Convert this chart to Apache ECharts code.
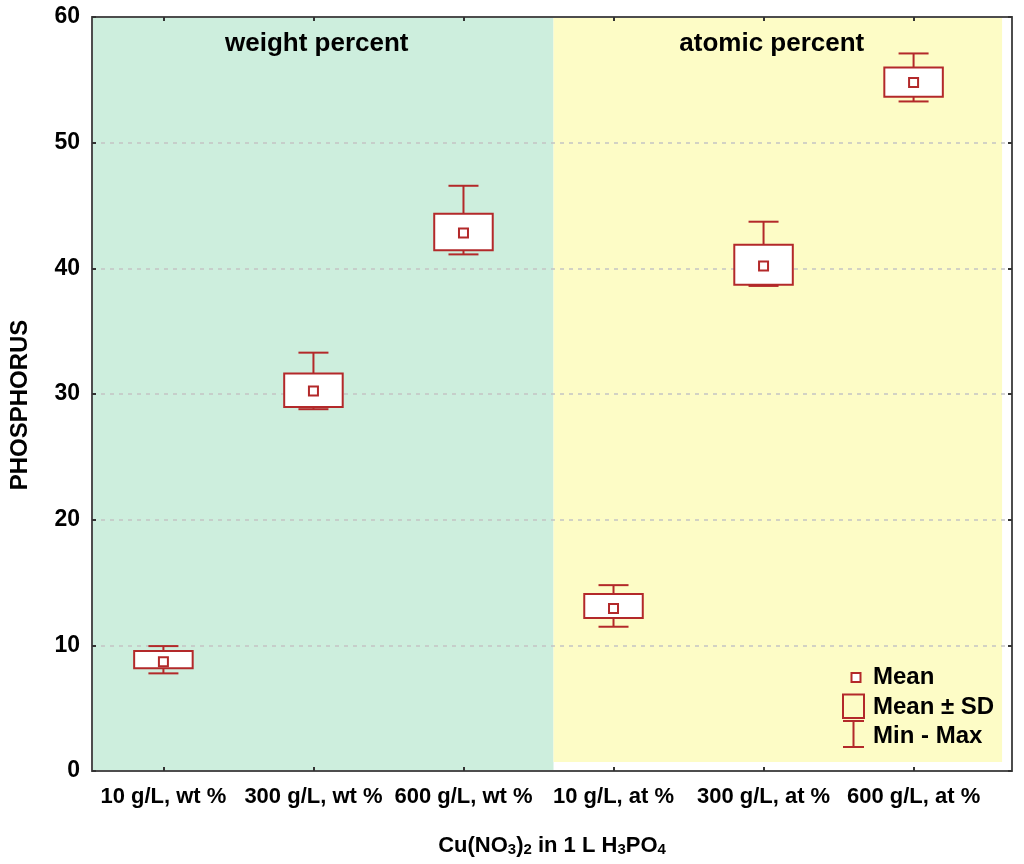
<!DOCTYPE html>
<html>
<head>
<meta charset="utf-8">
<script src="https://cdn.jsdelivr.net/npm/echarts@6/dist/echarts.min.js"></script>
<style>
html,body{margin:0;padding:0;background:#fff;}
#chart{width:1024px;height:864px;}
</style>
</head>
<body>
<div id="chart"></div>
<script>
// ---- data ----
const categories = ['10 g/L, wt %', '300 g/L, wt %', '600 g/L, wt %', '10 g/L, at %', '300 g/L, at %', '600 g/L, at %'];
const minVals  = [7.77, 28.79, 41.11, 11.48, 38.60, 53.28];
const sdLow    = [8.17, 28.97, 41.43, 12.17, 38.70, 53.65];
const means    = [8.69, 30.24, 42.81, 12.94, 40.19, 54.79];
const sdHigh   = [9.54, 31.63, 44.35, 14.08, 41.88, 55.98];
const maxVals  = [9.94, 33.29, 46.57, 14.79, 43.71, 57.10];
const groupLabels = ['weight percent', 'atomic percent'];
const legendLabels = ['Mean', 'Mean ± SD', 'Min - Max'];
const yMin = 0, yMax = 60, yStep = 10;

// ---- style ----
const RED = '#b3292a';
const FONT = '"Liberation Sans", Arial, sans-serif';
const XMIN = 0.524, XMAX = 6.656;
const catPos = categories.map((c, i) => i + 1);

const chart = echarts.init(document.getElementById('chart'));

function renderBox(params, api) {
  const x = api.value(0);
  const pMin = api.coord([x, api.value(1)]);
  const pLo = api.coord([x, api.value(2)]);
  const pMean = api.coord([x, api.value(3)]);
  const pHi = api.coord([x, api.value(4)]);
  const pMax = api.coord([x, api.value(5)]);
  const unit = api.size([1, 0])[0];
  const bw = unit * 0.39, cw = unit * 0.2, ms = 9;
  const cx = pMean[0];
  const ls = { stroke: RED, lineWidth: 2, fill: null };
  return {
    type: 'group',
    children: [
      { type: 'line', shape: { x1: cx, y1: pMax[1], x2: cx, y2: pHi[1] }, style: ls },
      { type: 'line', shape: { x1: cx - cw / 2, y1: pMax[1], x2: cx + cw / 2, y2: pMax[1] }, style: ls },
      { type: 'line', shape: { x1: cx, y1: pMin[1], x2: cx, y2: pLo[1] }, style: ls },
      { type: 'line', shape: { x1: cx - cw / 2, y1: pMin[1], x2: cx + cw / 2, y2: pMin[1] }, style: ls },
      { type: 'rect', shape: { x: cx - bw / 2, y: pHi[1], width: bw, height: pLo[1] - pHi[1] },
        style: { stroke: RED, lineWidth: 2, fill: '#ffffff' } },
      { type: 'rect', shape: { x: cx - ms / 2, y: pMean[1] - ms / 2, width: ms, height: ms },
        style: { stroke: RED, lineWidth: 2, fill: '#ffffff' } }
    ]
  };
}

const boxData = categories.map((c, i) => [i + 1, minVals[i], sdLow[i], means[i], sdHigh[i], maxVals[i]]);

const bandLabel = {
  show: true, position: 'insideTop', distance: 14, offset: [-6, 0],
  fontSize: 26, fontWeight: 'bold', color: '#000', fontFamily: FONT
};

const axisLineStyle = { color: '#4d4d4d', width: 2 };
const tickStyle = { color: '#333', width: 2 };

const option = {
  animation: false,
  backgroundColor: '#ffffff',
  textStyle: { fontFamily: FONT },
  grid: { left: 90, right: 12, top: 17, bottom: 93, containLabel: false },
  xAxis: [
    {
      type: 'value', min: XMIN, max: XMAX, position: 'bottom', z: 3,
      axisLine: { show: true, onZero: false, lineStyle: axisLineStyle },
      axisTick: { show: true, inside: true, length: 4, customValues: catPos, lineStyle: tickStyle },
      axisLabel: {
        customValues: catPos,
        formatter: v => categories[Math.round(v) - 1] || '',
        margin: 15, fontSize: 22, fontWeight: 'bold', color: '#000', fontFamily: FONT
      },
      splitLine: { show: false },
      name: '{m|Cu(NO}{s|3}{m|)}{s|2}{m| in 1 L H}{s|3}{m|PO}{s|4}',
      nameLocation: 'middle', nameGap: 60,
      nameTextStyle: {
        rich: {
          m: { fontSize: 22, fontWeight: 'bold', color: '#000', fontFamily: FONT, lineHeight: 26, verticalAlign: 'bottom' },
          s: { fontSize: 15, fontWeight: 'bold', color: '#000', fontFamily: FONT, lineHeight: 12, verticalAlign: 'bottom' }
        }
      }
    },
    {
      type: 'value', min: XMIN, max: XMAX, position: 'top', z: 3,
      axisLine: { show: true, onZero: false, lineStyle: axisLineStyle },
      axisTick: { show: true, inside: true, length: 4, customValues: catPos, lineStyle: tickStyle },
      axisLabel: { show: false },
      splitLine: { show: false }
    }
  ],
  yAxis: [
    {
      type: 'value', min: yMin, max: yMax, interval: yStep, position: 'left', z: 3,
      axisLine: { show: true, onZero: false, lineStyle: axisLineStyle },
      axisTick: { show: true, inside: true, length: 4, lineStyle: tickStyle },
      axisLabel: { margin: 12, fontSize: 23, fontWeight: 'bold', color: '#000', fontFamily: FONT },
      splitLine: { show: true, lineStyle: { color: '#c4c4c4', width: 1.5, type: [4, 5] } },
      name: 'PHOSPHORUS', nameLocation: 'middle', nameGap: 60,
      nameTextStyle: { fontSize: 24, fontWeight: 'bold', color: '#000', fontFamily: FONT, padding: [0, 22, 0, 0] }
    },
    {
      type: 'value', min: yMin, max: yMax, interval: yStep, position: 'right', z: 3,
      axisLine: { show: true, onZero: false, lineStyle: axisLineStyle },
      axisTick: { show: true, inside: true, length: 4, lineStyle: tickStyle },
      axisLabel: { show: false },
      splitLine: { show: false }
    }
  ],
  series: [
    {
      type: 'custom', name: 'bands', z: -1, silent: true,
      xAxisIndex: 0, yAxisIndex: 0,
      data: boxData,
      renderItem: () => ({ type: 'group', children: [] }),
      markArea: {
        silent: true, z: -1,
        data: [
          [{ name: groupLabels[0], xAxis: XMIN, yAxis: yMin, itemStyle: { color: '#cdeedd' }, label: bandLabel },
           { xAxis: 3.6, yAxis: yMax }],
          [{ name: groupLabels[1], xAxis: 3.6, yAxis: 0.72, itemStyle: { color: '#fdfcc6' }, label: bandLabel },
           { xAxis: 6.59, yAxis: yMax }]
        ]
      }
    },
    {
      type: 'custom', name: 'PHOSPHORUS', z: 5,
      xAxisIndex: 0, yAxisIndex: 0,
      data: boxData,
      encode: { x: 0, y: [1, 2, 3, 4, 5] },
      renderItem: renderBox
    }
  ],
  graphic: [
    { type: 'rect', z: 10, shape: { x: 851.5, y: 673, width: 9, height: 9 }, style: { stroke: RED, lineWidth: 2, fill: '#fff' } },
    { type: 'rect', z: 10, shape: { x: 843, y: 694.5, width: 21, height: 23.5 }, style: { stroke: RED, lineWidth: 2, fill: null } },
    { type: 'line', z: 10, shape: { x1: 853.5, y1: 721, x2: 853.5, y2: 747 }, style: { stroke: RED, lineWidth: 2 } },
    { type: 'line', z: 10, shape: { x1: 843, y1: 721, x2: 864, y2: 721 }, style: { stroke: RED, lineWidth: 2 } },
    { type: 'line', z: 10, shape: { x1: 843, y1: 747, x2: 864, y2: 747 }, style: { stroke: RED, lineWidth: 2 } },
    { type: 'text', z: 10, x: 873, y: 677, style: { text: legendLabels[0], font: 'bold 24px ' + FONT, fill: '#000', verticalAlign: 'middle' } },
    { type: 'text', z: 10, x: 873, y: 707, style: { text: legendLabels[1], font: 'bold 24px ' + FONT, fill: '#000', verticalAlign: 'middle' } },
    { type: 'text', z: 10, x: 873, y: 736, style: { text: legendLabels[2], font: 'bold 24px ' + FONT, fill: '#000', verticalAlign: 'middle' } }
  ]
};

chart.setOption(option);
</script>
</body>
</html>
